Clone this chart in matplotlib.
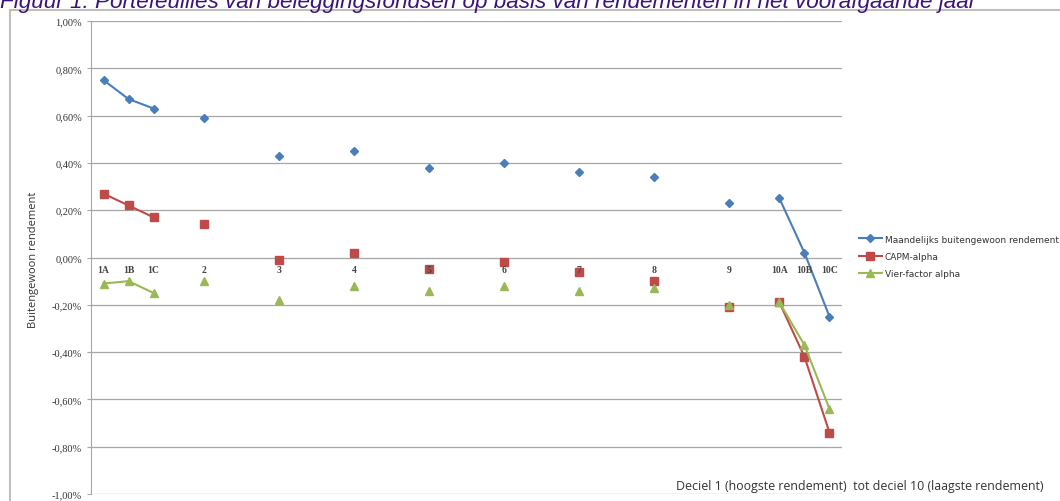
import numpy as np
import matplotlib
matplotlib.use('Agg')
import matplotlib.pyplot as plt
from matplotlib.patches import Rectangle
from matplotlib.ticker import FuncFormatter

categorieen = ['1A', '1B', '1C', '2', '3', '4', '5', '6', '7', '8', '9', '10A', '10B', '10C']
maandelijks = [0.75, 0.67, 0.63, 0.59, 0.43, 0.45, 0.38, 0.40, 0.36, 0.34, 0.23, 0.25, 0.02, -0.25]
capm_alpha = [0.27, 0.22, 0.17, 0.14, -0.01, 0.02, -0.05, -0.02, -0.06, -0.10, -0.21, -0.19, -0.42, -0.74]
vier_factor = [-0.11, -0.10, -0.15, -0.10, -0.18, -0.12, -0.14, -0.12, -0.14, -0.13, -0.20, -0.19, -0.37, -0.64]
y_ticks = [1.0, 0.8, 0.6, 0.4, 0.2, 0.0, -0.2, -0.4, -0.6, -0.8, -1.0]

# deciel nummer, met A/B/C als derde deel van een deciel
def positie(c):
    sub = {'A': -1/3, 'B': 0, 'C': 1/3}
    if c[-1] in sub:
        return int(c[:-1]) + sub[c[-1]]
    return int(c)

x = np.array([positie(c) for c in categorieen])

# alleen de 1A-1C en 10A-10C punten zijn met een lijn verbonden
groepen = [[0, 1, 2], [3], [4], [5], [6], [7], [8], [9], [10], [11, 12, 13]]

fig = plt.figure(figsize=(10.6, 5.02), dpi=100)
W, H = 1060, 502
ax = fig.add_axes([91 / W, 1 - 495 / H, (842 - 91) / W, (495 - 22) / H])

series = [
    (maandelijks, '#4A7EBB', 'D', 4.5, 'Maandelijks buitengewoon rendement'),
    (capm_alpha, '#BE4B48', 's', 5.5, 'CAPM-alpha'),
    (vier_factor, '#98B954', '^', 6, 'Vier-factor alpha'),
]
for waarden, kleur, marker, ms, naam in series:
    w = np.array(waarden)
    for i, g in enumerate(groepen):
        ax.plot(x[g], w[g], color=kleur, marker=marker, markersize=ms, lw=1.5,
                label=naam if i == 0 else None, zorder=3)

ax.set_xlim(0.5, 10.5)
ax.set_ylim(-1.0, 1.0)
ax.set_yticks(y_ticks)
ax.yaxis.set_major_formatter(FuncFormatter(lambda v, p: ('%.2f%%' % v).replace('.', ',')))
ax.grid(axis='y', color='#A6A6A6', lw=0.9)
ax.set_axisbelow(True)
ax.set_xticks([])
for s in ['top', 'right', 'bottom']:
    ax.spines[s].set_visible(False)
ax.spines['left'].set_color('#A6A6A6')
ax.tick_params(axis='y', length=3, color='#A6A6A6', labelsize=7.5)
for t in ax.get_yticklabels():
    t.set_family('Liberation Serif')
    t.set_color('#333333')

# categorie labels net onder de nul-lijn
for xi, c in zip(x, categorieen):
    ax.text(xi, -0.05, c, ha='center', va='center', fontsize=7, family='Liberation Serif',
            fontweight='bold', color='#444444')

fig.text(34 / W, 1 - 260 / H, 'Buitengewoon rendement', rotation=90, ha='center', va='center',
         fontsize=8, color='#333333', family='Open Sans')
fig.text(1043 / W, 1 - 487 / H, 'Deciel 1 (hoogste rendement)  tot deciel 10 (laagste rendement)',
         ha='right', va='center', fontsize=8.9, color='#333333', family='Open Sans')

leg = fig.legend(loc='upper left', bbox_to_anchor=(855 / W, 1 - 232 / H), frameon=False,
                 fontsize=6.5, handlelength=2.6, labelspacing=0.9, borderaxespad=0, handletextpad=0.3)
for t in leg.get_texts():
    t.set_color('#333333')

fig.text(0 / W, 1 - 8 / H,
         'Figuur 1: Portefeuilles van beleggingsfondsen op basis van rendementen in het voorafgaande jaar',
         ha='left', va='baseline', fontsize=16.2, style='italic', color='#3C1478', family='Liberation Sans')

fig.patches.append(Rectangle((10 / W, -0.1), 1.2, 1 - 11 / H + 0.1, transform=fig.transFigure,
                             fill=False, edgecolor='#BFBFBF', lw=1.5))

fig.savefig('out.png', dpi=100)
